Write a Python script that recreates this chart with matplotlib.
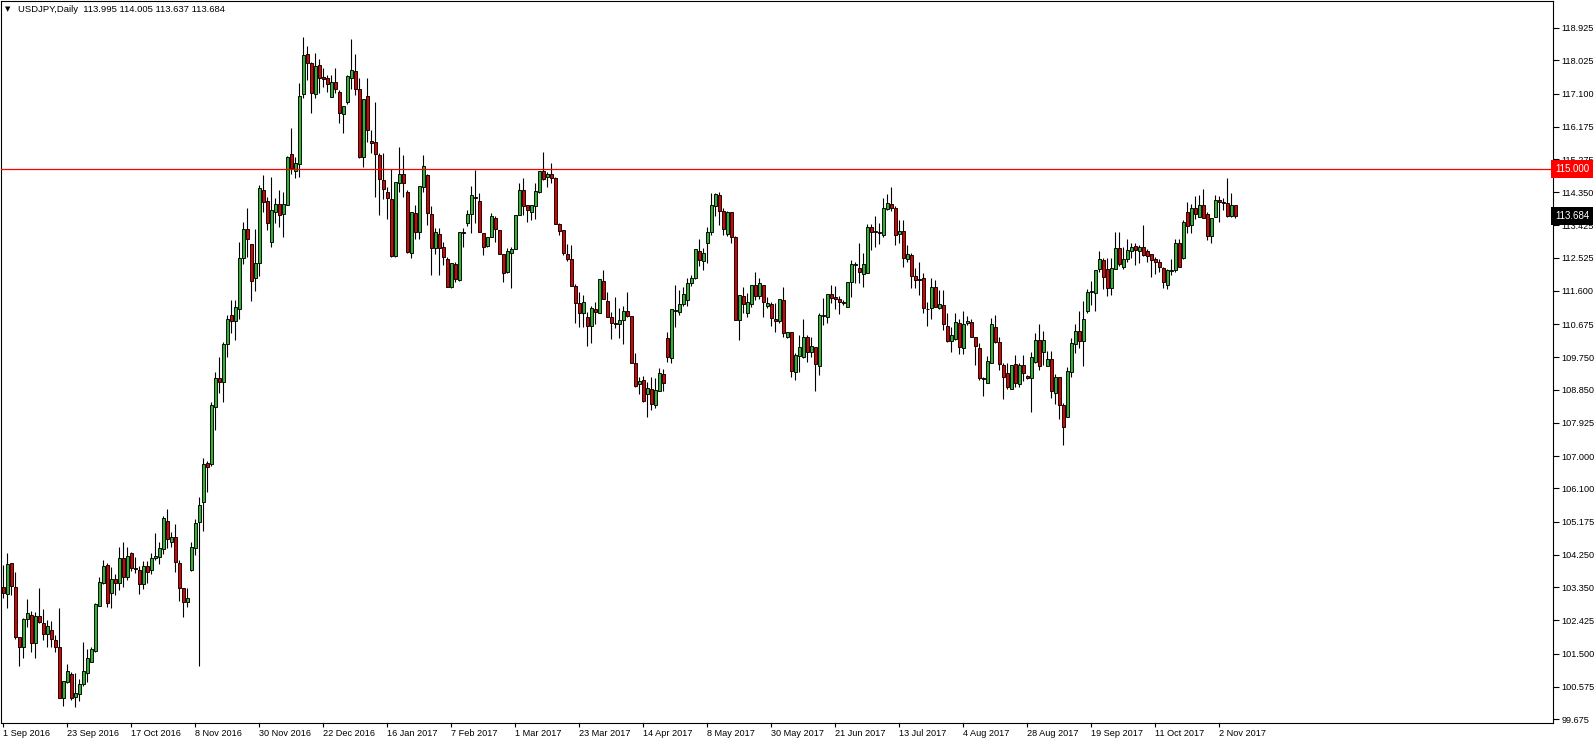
import matplotlib
matplotlib.use("Agg")
import matplotlib.pyplot as plt
import matplotlib.transforms as mtransforms
import numpy as np

# ---------------- data (USDJPY daily, 1 Sep 2016 -> Nov 2017) ----------------
opens = [
    103.36, 103.15, 104.01, 103.36, 101.97, 101.69, 102.45, 102.57, 101.80, 102.55,
    102.36, 102.04, 102.16, 101.88, 101.67, 100.25, 100.72, 100.93, 100.28, 100.36,
    100.64, 100.97, 101.27, 101.58, 102.83, 103.46, 103.97, 103.18, 103.57, 103.46,
    104.15, 103.64, 104.29, 103.87, 103.83, 103.43, 103.93, 103.82, 104.15, 104.18,
    104.40, 105.18, 104.60, 104.74, 104.01, 103.32, 102.93, 103.83, 104.43, 105.17,
    105.73, 106.82, 106.78, 108.36, 109.17, 109.06, 110.11, 110.93, 110.77, 111.09,
    112.51, 113.33, 112.90, 111.95, 112.37, 114.41, 114.11, 112.97, 113.81, 114.01,
    113.74, 113.99, 115.41, 114.95, 115.13, 117.08, 118.20, 117.96, 117.09, 117.89,
    117.55, 117.52, 117.01, 117.41, 117.14, 116.52, 116.85, 117.52, 117.73, 117.22,
    115.32, 117.03, 115.78, 115.74, 115.39, 114.69, 114.37, 114.16, 112.58, 114.60,
    114.86, 114.35, 112.65, 113.77, 113.23, 114.50, 114.83, 113.74, 112.79, 113.18,
    112.82, 112.49, 111.72, 112.34, 111.90, 113.23, 113.50, 113.74, 114.21, 114.10,
    113.21, 112.86, 113.09, 113.62, 113.30, 112.62, 112.12, 112.65, 112.76, 113.72,
    114.41, 113.99, 113.81, 113.97, 114.35, 114.94, 114.77, 114.86, 114.74, 113.46,
    113.30, 112.63, 112.48, 111.75, 111.26, 110.98, 110.88, 110.63, 111.09, 111.00,
    111.89, 111.33, 110.88, 110.72, 110.67, 110.79, 111.04, 110.90, 109.58, 109.00,
    109.12, 108.72, 108.86, 108.41, 108.82, 109.28, 110.28, 109.72, 111.07, 111.02,
    111.23, 111.35, 111.83, 111.97, 112.71, 112.44, 112.93, 113.23, 113.97, 114.27,
    113.84, 113.18, 113.79, 113.09, 110.79, 111.47, 110.99, 111.23, 111.77, 111.47,
    111.77, 111.18, 111.23, 110.82, 110.75, 111.35, 110.33, 110.45, 109.35, 109.80,
    109.77, 110.31, 109.91, 110.03, 109.52, 110.90, 110.87, 111.52, 111.44, 111.38,
    111.29, 111.16, 111.84, 112.32, 112.23, 112.06, 112.09, 113.39, 113.27, 113.23,
    113.16, 113.88, 114.02, 113.90, 113.19, 113.26, 112.48, 112.60, 112.02, 111.92,
    111.95, 111.10, 111.12, 111.70, 111.12, 111.21, 110.62, 110.22, 110.26, 110.70,
    110.00, 110.70, 110.73, 110.31, 110.00, 109.17, 109.05, 109.60, 110.59, 110.17,
    109.54, 109.31, 108.86, 109.56, 109.00, 109.54, 109.23, 109.17, 109.63, 110.23,
    109.89, 109.52, 109.70, 108.75, 109.19, 108.42, 108.10, 109.35, 110.12, 110.49,
    110.22, 111.03, 111.56, 111.53, 112.20, 112.46, 112.21, 111.67, 112.21, 112.80,
    112.28, 112.48, 112.71, 112.85, 112.70, 112.82, 112.70, 112.62, 112.49, 112.40,
    112.23, 111.77, 112.17, 112.18, 112.93, 112.51, 113.79, 113.44, 113.90, 113.67,
    113.99, 113.74, 113.14, 113.65, 114.13, 114.07, 114.04, 113.69, 113.995,
]
highs = [
    103.97, 104.29, 104.03, 103.76, 101.97, 102.48, 103.01, 102.69, 102.67, 103.32,
    102.73, 102.44, 102.41, 102.02, 102.76, 100.74, 101.21, 100.99, 100.97, 100.78,
    101.81, 101.64, 101.67, 102.92, 103.62, 104.12, 104.01, 103.90, 103.71, 104.46,
    104.60, 104.48, 104.34, 104.20, 103.94, 104.08, 104.08, 104.29, 104.85, 104.62,
    105.33, 105.52, 104.90, 105.11, 104.12, 103.32, 103.32, 104.60, 105.24, 105.87,
    106.94, 106.85, 108.51, 109.33, 109.77, 110.19, 110.93, 111.35, 111.35, 112.97,
    113.53, 113.90, 112.90, 113.33, 114.55, 114.83, 114.23, 114.78, 114.18, 114.41,
    114.37, 115.36, 116.15, 115.34, 117.38, 118.68, 118.42, 117.99, 118.24, 118.06,
    117.80, 117.62, 117.62, 117.80, 117.20, 116.75, 117.62, 118.61, 118.20, 117.52,
    116.95, 117.52, 116.08, 116.87, 115.43, 115.43, 114.50, 115.00, 114.63, 115.60,
    115.39, 114.41, 113.80, 113.99, 114.52, 115.39, 114.85, 113.97, 113.35, 113.35,
    112.97, 112.56, 112.37, 112.42, 113.23, 113.35, 113.86, 114.51, 114.97, 114.32,
    113.21, 113.09, 113.78, 113.69, 113.30, 112.62, 112.79, 112.83, 113.72, 114.60,
    114.74, 113.99, 113.99, 114.62, 114.94, 115.48, 114.90, 115.17, 114.78, 113.50,
    113.30, 112.90, 112.88, 111.79, 111.56, 111.49, 111.02, 111.18, 111.30, 111.92,
    112.18, 111.58, 111.02, 111.44, 111.12, 111.18, 111.56, 110.90, 109.86, 109.19,
    109.23, 109.07, 109.21, 109.17, 109.45, 109.42, 110.47, 111.10, 111.77, 111.63,
    111.72, 111.95, 112.04, 112.76, 113.04, 112.79, 113.39, 114.32, 114.34, 114.37,
    113.90, 113.84, 113.80, 113.13, 111.49, 111.72, 111.53, 111.78, 112.12, 111.95,
    111.77, 111.44, 111.30, 111.26, 111.38, 111.70, 110.47, 110.47, 109.88, 110.37,
    110.81, 110.37, 110.33, 110.05, 110.98, 111.40, 111.52, 111.77, 111.74, 111.46,
    111.35, 111.84, 112.46, 112.42, 112.93, 112.65, 113.47, 113.47, 113.69, 113.48,
    114.18, 114.30, 114.49, 113.97, 113.58, 113.58, 112.88, 112.67, 112.23, 112.42,
    112.10, 111.30, 111.95, 111.90, 111.63, 111.63, 110.98, 110.61, 110.98, 110.81,
    111.05, 110.90, 110.81, 110.33, 110.14, 109.19, 109.79, 110.84, 110.93, 110.33,
    109.58, 109.60, 109.54, 109.82, 109.58, 109.82, 109.25, 109.91, 110.44, 110.67,
    110.48, 109.94, 109.93, 109.29, 109.20, 108.47, 109.49, 110.28, 110.67, 111.05,
    111.33, 111.65, 111.88, 112.18, 112.71, 112.51, 112.51, 112.51, 113.25, 113.25,
    112.82, 113.05, 112.95, 112.93, 112.88, 113.44, 112.76, 112.62, 112.54, 112.48,
    112.28, 112.20, 112.48, 113.04, 113.04, 113.58, 114.09, 114.02, 114.25, 114.26,
    114.44, 113.81, 113.64, 114.27, 114.25, 114.20, 114.76, 114.32, 114.005,
]
lows = [
    103.04, 102.76, 103.13, 101.91, 101.16, 101.37, 102.25, 101.55, 101.39, 102.34,
    101.88, 101.67, 101.67, 101.55, 100.25, 100.05, 100.67, 100.21, 100.02, 100.19,
    100.60, 100.70, 101.26, 101.53, 102.83, 103.44, 102.81, 102.78, 103.13, 103.27,
    103.36, 103.55, 103.81, 103.75, 103.15, 103.29, 103.47, 103.71, 104.11, 104.00,
    104.26, 104.43, 104.48, 103.76, 102.97, 102.51, 102.79, 103.81, 104.25, 101.14,
    104.92, 106.01, 106.72, 107.73, 108.77, 108.52, 109.77, 110.44, 110.23, 110.81,
    112.34, 112.54, 111.33, 111.61, 112.02, 113.81, 113.30, 112.83, 113.48, 113.39,
    113.11, 113.99, 114.85, 114.74, 114.78, 116.98, 117.48, 116.55, 116.97, 117.11,
    117.29, 117.15, 117.01, 117.11, 116.27, 116.01, 116.80, 117.22, 117.06, 115.30,
    115.06, 115.76, 115.43, 114.23, 113.73, 114.15, 113.60, 112.55, 112.54, 114.37,
    114.23, 112.66, 112.51, 113.04, 113.04, 114.37, 113.44, 112.04, 112.63, 112.04,
    112.32, 111.70, 111.67, 111.86, 111.88, 112.83, 113.41, 113.22, 113.48, 113.23,
    112.60, 112.83, 113.09, 112.97, 112.62, 111.86, 112.09, 111.67, 112.76, 113.72,
    113.72, 113.53, 113.58, 113.60, 114.32, 114.69, 114.49, 114.60, 113.46, 113.16,
    112.60, 112.44, 111.75, 110.72, 110.61, 110.61, 110.08, 110.16, 110.68, 111.00,
    111.39, 110.87, 110.25, 110.56, 110.28, 110.12, 110.88, 109.58, 108.93, 108.72,
    108.52, 108.10, 108.28, 108.33, 108.82, 108.82, 109.63, 109.58, 110.61, 110.93,
    111.18, 111.18, 111.74, 111.92, 112.30, 112.18, 112.39, 113.16, 113.69, 113.44,
    113.16, 113.13, 112.93, 110.79, 110.23, 110.98, 110.88, 111.16, 111.35, 111.39,
    110.88, 111.12, 110.63, 110.47, 110.70, 110.31, 110.28, 109.21, 109.12, 109.35,
    109.72, 109.63, 109.77, 108.80, 109.26, 110.65, 110.72, 111.27, 111.09, 110.96,
    111.21, 111.14, 111.44, 111.81, 111.81, 111.72, 112.09, 112.74, 112.82, 112.91,
    113.11, 113.86, 113.84, 112.88, 112.93, 112.26, 112.42, 111.67, 111.67, 111.49,
    110.99, 110.62, 110.81, 111.14, 111.10, 110.51, 110.19, 109.91, 110.23, 109.84,
    109.84, 110.65, 110.31, 109.54, 109.12, 108.67, 109.03, 109.58, 110.14, 109.40,
    108.58, 108.86, 108.86, 108.93, 108.93, 109.09, 109.15, 108.24, 109.58, 109.40,
    109.54, 109.50, 108.61, 108.45, 108.03, 107.32, 108.10, 109.21, 109.88, 110.02,
    109.51, 111.00, 111.21, 111.05, 112.14, 111.65, 111.46, 111.49, 112.20, 112.30,
    112.20, 112.42, 112.51, 112.31, 112.39, 112.58, 112.42, 111.98, 112.06, 112.14,
    111.67, 111.65, 112.05, 112.14, 112.26, 112.48, 113.21, 113.22, 113.60, 113.65,
    113.64, 113.02, 112.95, 113.65, 113.53, 113.86, 113.65, 113.67, 113.637,
]
closes = [
    103.20, 103.99, 103.39, 101.97, 101.69, 102.45, 102.64, 101.80, 102.55, 102.39,
    102.04, 102.28, 101.90, 101.69, 100.27, 100.74, 101.02, 100.27, 100.39, 100.65,
    101.01, 101.39, 101.63, 102.88, 103.48, 103.94, 102.92, 103.57, 103.47, 104.15,
    103.64, 104.22, 103.87, 103.85, 103.43, 103.93, 103.78, 104.15, 104.21, 104.43,
    105.27, 104.68, 104.74, 104.04, 103.32, 102.93, 103.04, 104.46, 105.15, 105.64,
    106.78, 106.71, 108.43, 109.17, 109.06, 110.12, 110.82, 110.77, 111.16, 112.51,
    113.33, 113.04, 111.89, 112.37, 114.46, 114.09, 113.48, 113.86, 114.01, 113.73,
    114.01, 115.32, 115.02, 115.16, 117.03, 118.17, 117.94, 117.11, 117.87, 117.54,
    117.50, 117.36, 117.41, 117.23, 116.55, 116.75, 117.59, 117.75, 117.22, 115.34,
    116.95, 116.07, 115.73, 115.41, 114.71, 114.43, 114.18, 112.58, 114.63, 114.86,
    114.60, 112.69, 113.80, 113.25, 114.52, 115.08, 113.76, 112.79, 113.23, 112.79,
    112.56, 111.72, 112.37, 111.92, 113.23, 113.21, 113.74, 114.27, 114.18, 113.23,
    112.82, 113.09, 113.69, 113.32, 112.62, 112.09, 112.71, 112.77, 113.72, 114.41,
    113.98, 113.86, 113.99, 114.38, 114.94, 114.71, 114.86, 114.74, 113.46, 113.27,
    112.65, 112.48, 111.75, 111.26, 110.98, 111.30, 110.63, 111.12, 111.02, 111.92,
    111.39, 110.88, 110.72, 110.68, 110.79, 111.04, 110.91, 109.58, 108.96, 109.09,
    108.54, 108.89, 108.44, 108.84, 109.31, 109.05, 109.75, 111.10, 111.04, 111.23,
    111.51, 111.81, 111.97, 112.76, 112.46, 112.65, 113.23, 113.99, 114.30, 113.84,
    113.34, 113.79, 113.09, 110.79, 111.49, 111.23, 111.28, 111.78, 111.47, 111.81,
    111.30, 111.26, 110.84, 110.75, 111.38, 110.42, 110.45, 109.38, 109.82, 110.05,
    110.33, 109.91, 110.07, 109.56, 110.93, 110.93, 111.52, 111.41, 111.37, 111.30,
    111.26, 111.84, 112.34, 112.36, 112.14, 112.34, 113.37, 113.25, 113.23, 113.21,
    113.90, 114.04, 113.92, 113.16, 113.28, 112.51, 112.62, 112.03, 111.91, 111.91,
    111.12, 111.09, 111.70, 111.14, 111.25, 110.67, 110.22, 110.37, 110.73, 110.03,
    110.67, 110.75, 110.31, 110.07, 109.17, 109.15, 109.65, 110.67, 110.17, 109.56,
    109.19, 108.93, 109.54, 109.03, 109.54, 109.31, 109.17, 109.75, 110.23, 109.51,
    110.23, 109.70, 108.80, 109.19, 108.42, 107.82, 109.37, 110.14, 110.49, 110.22,
    110.82, 111.56, 111.60, 112.18, 112.49, 111.98, 111.69, 112.23, 112.80, 112.34,
    112.49, 112.74, 112.82, 112.74, 112.82, 112.60, 112.57, 112.45, 112.42, 112.28,
    111.84, 112.18, 112.19, 112.93, 112.28, 113.51, 113.42, 113.90, 113.74, 113.99,
    113.64, 113.14, 113.64, 114.13, 114.07, 114.04, 113.70, 113.99, 113.684,
]

date_labels = ["1 Sep 2016", "23 Sep 2016", "17 Oct 2016", "8 Nov 2016", "30 Nov 2016",
               "22 Dec 2016", "16 Jan 2017", "7 Feb 2017", "1 Mar 2017", "23 Mar 2017",
               "14 Apr 2017", "8 May 2017", "30 May 2017", "21 Jun 2017", "13 Jul 2017",
               "4 Aug 2017", "28 Aug 2017", "19 Sep 2017", "11 Oct 2017", "2 Nov 2017"]
bars_per_label = 16

price_ticks = [118.925, 118.025, 117.100, 116.175, 115.275, 114.350, 113.425, 112.525,
               111.600, 110.675, 109.750, 108.850, 107.925, 107.000, 106.100, 105.175,
               104.250, 103.350, 102.425, 101.500, 100.575, 99.675]

level_line = 115.000
header = "USDJPY,Daily  113.995 114.005 113.637 113.684"

# ---------------- drawing ----------------
FONT = "Liberation Sans"
FS = 6.6
W, H = 1596, 744
fig = plt.figure(figsize=(W / 100, H / 100), dpi=100)
fig.patch.set_facecolor("white")
ax = fig.add_axes([1 / W, 21 / H, 1552 / W, 722 / H])
ax.set_facecolor("white")

o = np.array(opens); hi = np.array(highs); lo = np.array(lows); c = np.array(closes)
n = len(o)
x = np.arange(n)

bull_col = "#2eb42e"
bear_col = "#dc0000"

top = np.maximum(hi, np.maximum(o, c))
bot = np.minimum(lo, np.minimum(o, c))
ax.vlines(x, bot, top, color="black", linewidth=0.8, zorder=2)

body_lo = np.minimum(o, c)
body_h = np.abs(c - o)
cols = [bull_col if cc > oo else (bear_col if cc < oo else "black") for oo, cc in zip(o, c)]
ax.bar(x, body_h, bottom=body_lo, width=0.8, color=cols, edgecolor="black",
       linewidth=0.65, zorder=3)

ax.axhline(level_line, color="red", linewidth=0.9, zorder=4)

ax.set_xlim(-0.575, -0.575 + 1552 / 4)
ax.set_ylim(99.566, 119.677)

# y axis on right
ax.yaxis.tick_right()
ax.set_yticks(price_ticks)
ax.set_yticklabels([f"{v:.3f}" for v in price_ticks], fontsize=FS, family=FONT)
ax.tick_params(axis="y", length=4, width=0.8, pad=2, colors="black")

# x axis dates
ax.set_xticks([i * bars_per_label for i in range(len(date_labels))])
ax.set_xticklabels(date_labels, fontsize=FS, family=FONT)
for lab in ax.get_xticklabels():
    lab.set_horizontalalignment("left")
ax.tick_params(axis="x", length=3, width=0.8, pad=1.5, colors="black")

for sp in ax.spines.values():
    sp.set_color("black")
    sp.set_linewidth(0.8)

# price tags on the right axis
trans = mtransforms.blended_transform_factory(ax.transAxes, ax.transData)
ax.text(1.0015, level_line, f"{level_line:.3f}", transform=trans, fontsize=FS + 0.4,
        family=FONT, color="white", va="center", ha="left", zorder=10, clip_on=False,
        bbox=dict(boxstyle="square,pad=0.4", fc="red", ec="none"))
ax.text(1.0015, closes[-1], f"{closes[-1]:.3f}", transform=trans, fontsize=FS + 0.4,
        family=FONT, color="white", va="center", ha="left", zorder=10, clip_on=False,
        bbox=dict(boxstyle="square,pad=0.4", fc="black", ec="none"))

# header
fig.text(5 / W, 1 - 9 / H, "\u25BC", fontsize=5, family="DejaVu Sans", va="center", ha="left")
fig.text(18 / W, 1 - 9 / H, header, fontsize=FS + 0.2, family=FONT, va="center", ha="left")

fig.savefig("out.png", dpi=100, facecolor="white")
